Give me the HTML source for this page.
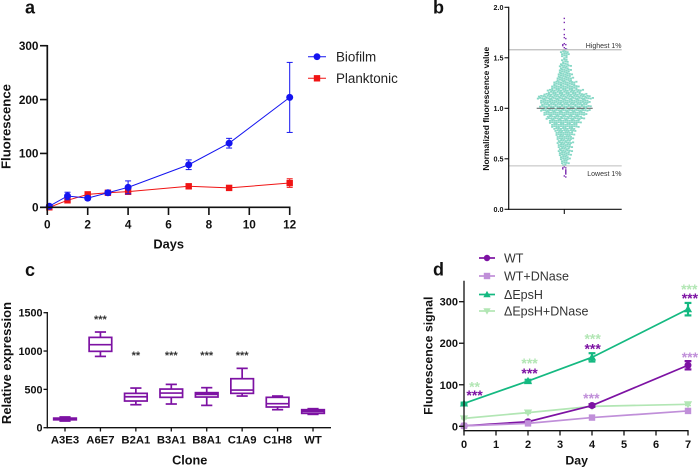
<!DOCTYPE html>
<html lang="en">
<head>
<meta charset="utf-8">
<title>Fluorescence multi-panel figure</title>
<style>
html,body{margin:0;padding:0;background:#fff;width:698px;height:467px;overflow:hidden}
svg{display:block;font-family:"Liberation Sans",Arial,sans-serif}
text{fill:#111}
</style>
</head>
<body>
<svg id="figure" xmlns="http://www.w3.org/2000/svg" width="698" height="467" viewBox="0 0 698 467"></svg>
<script>
// Panel a
const aDays = [0.1, 1, 2, 3, 4, 7, 9, 12];
const aBiofilm = [2, 21, 17, 27, 37, 79, 119, 204];
const aBiofilmErr = [1, 7, 3, 3, 12, 9, 9, 65];
const aPlanktonic = [0, 13, 24, 27, 29, 39, 36, 45];
const aPlanktonicErr = [1, 4, 3, 3, 5, 4, 4, 8];
const aXTicks = [0, 2, 4, 6, 8, 10, 12];
const aYTicks = [0, 100, 200, 300];

// Panel b
const bBinValues = [0.44,0.46,0.48,0.50,0.52,0.54,0.56,0.58,0.60,0.62,0.64,0.66,0.68,0.70,0.72,0.74,0.76,0.78,0.80,0.82,0.84,0.86,0.88,0.90,0.92,0.94,0.96,0.98,1.00,1.02,1.04,1.06,1.08,1.10,1.12,1.14,1.16,1.18,1.20,1.22,1.24,1.26,1.28,1.30,1.32,1.34,1.36,1.38,1.40,1.42,1.44,1.46,1.48,1.50,1.52,1.54,1.56,1.58];
const bBinCounts = [2,4,3,5,4,6,5,7,5,7,6,8,6,8,7,9,8,10,10,13,12,15,14,18,16,20,19,23,21,24,21,23,22,26,24,20,15,17,12,13,10,11,7,8,6,7,5,6,4,6,4,3,3,2,3,4,4,2];
const bHighOutliers = [1.89,1.85,1.78,1.73,1.70,1.69,1.64,1.63,1.63,1.62,1.60,1.59];
const bLowOutliers = [0.42,0.41,0.41,0.40,0.39,0.38,0.37,0.36,0.35,0.33,0.32];
const bYTicks = ["0.0","0.5","1.0","1.5","2.0"];
const bMedian = 1.0;
const bHighest = 1.58;
const bLowest = 0.43;

// Panel c
const cClones = ["A3E3","A6E7","B2A1","B3A1","B8A1","C1A9","C1H8","WT"];
const cMin = [87, 930, 300, 309, 291, 413, 235, 174];
const cQ1 = [103, 996, 348, 396, 400, 448, 270, 187];
const cMedian = [113, 1083, 404, 452, 435, 491, 313, 213];
const cQ3 = [125, 1178, 448, 504, 457, 639, 396, 235];
const cMax = [140, 1248, 517, 565, 522, 774, 413, 248];
const cStars = ["", "***", "**", "***", "***", "***", "", ""];
const cStarValues = [0, 1430, 960, 960, 960, 960, 0, 0];
const cYTicks = [0, 500, 1000, 1500];

// Panel d
const dDays = [0, 2, 4, 7];
const dWT = [1, 11, 50, 147];
const dWTErr = [1, 2, 3, 10];
const dWTDNase = [1, 7, 21, 37];
const dWTDNaseErr = [1, 1, 2, 3];
const dEpsH = [55, 109, 166, 282];
const dEpsHErr = [2, 3, 10, 15];
const dEpsHDNase = [19, 33, 48, 53];
const dEpsHDNaseErr = [1, 2, 2, 3];
const dXTicks = [0, 1, 2, 3, 4, 5, 6, 7];
const dYTicks = [0, 100, 200, 300];
const dStarDays = [0.33, 0.33, 2.05, 2.05, 4.02, 4.02, 3.98, 7.04, 7.06, 7.06];
const dStarValues = [103, 82, 160, 135, 219, 195, 75, 338, 316, 174];
const dStarText = ["**","***","***","***","***","***","***","***","***","***"];
const dStarSeries = [3,0,3,0,3,0,1,3,0,1];

const svg = document.getElementById('figure');
const NS = 'http://www.w3.org/2000/svg';
function mk(tag, attrs, parent, txt){
  const e = document.createElementNS(NS, tag);
  for (const k in attrs) e.setAttribute(k, attrs[k]);
  if (txt !== undefined) e.textContent = txt;
  (parent || svg).appendChild(e);
  return e;
}
function group(name, parent){
  const g = mk('g', {}, parent);
  
  
  return g;
}
function line(p, x1, y1, x2, y2, color, w, name){
  const l = mk('line', {x1:x1, y1:y1, x2:x2, y2:y2, stroke:color, 'stroke-width':w}, p);
  
  
  return l;
}
function label(p, x, y, s, size, bold, anchor, name, color, rot){
  const a = {x:x, y:y, 'font-size':size, 'font-weight':bold ? 'bold' : 'normal', 'text-anchor':anchor || 'middle'};
  if (rot) a.transform = 'rotate(-90 ' + x + ' ' + y + ')';
  const t = mk('text', a, p, s);
  if (color) t.style.fill = color;
  
  
  return t;
}
function marker(p, kind, x, y, r, color, name){
  let m;
  if (kind === 'circle') m = mk('circle', {cx:x, cy:y, r:r, fill:color}, p);
  else if (kind === 'square') m = mk('rect', {x:x-r, y:y-r, width:2*r, height:2*r, fill:color}, p);
  else if (kind === 'up') m = mk('polygon', {points:[x,y-r*1.15,x+r*1.15,y+r*0.85,x-r*1.15,y+r*0.85].join(','), fill:color}, p);
  else m = mk('polygon', {points:[x,y+r*1.15,x+r*1.15,y-r*0.85,x-r*1.15,y-r*0.85].join(','), fill:color}, p);
  
  
  return m;
}
function series(p, xs, ys, errs, sx, sy, color, lw, kind, r, cap, ew, name){
  const pts = xs.map((d, i) => sx(d) + ',' + sy(ys[i])).join(' ');
  const pl = mk('polyline', {points:pts, fill:'none', stroke:color, 'stroke-width':lw}, p);
  
  
  xs.forEach((d, i) => {
    const x = sx(d), hi = sy(ys[i] + errs[i]), lo = sy(ys[i] - errs[i]);
    line(p, x, hi, x, lo, color, ew, name + '-error-bar');
    line(p, x - cap, hi, x + cap, hi, color, ew, name + '-error-cap');
    line(p, x - cap, lo, x + cap, lo, color, ew, name + '-error-cap');
    marker(p, kind, x, sy(ys[i]), r, color, name + '-point');
  });
}

// Panel letters
[['a',25,13.5,'panel-a-label'],['b',433,13.5,'panel-b-label'],['c',25,276,'panel-c-label'],['d',433,275.6,'panel-d-label']].forEach(v => {
  label(svg, v[1], v[2], v[0], 18, true, 'start', v[3]);
});

// ---------- Panel a ----------
(function(){
  const g = group('panel-a-chart');
  const sx = d => 47.3 + d * (289.7 - 47.3) / 12;
  const sy = v => 207.3 - v * (207.3 - 45.7) / 300;
  series(g, aDays, aPlanktonic, aPlanktonicErr, sx, sy, '#f01414', 1, 'square', 3.2, 3, 1, 'planktonic');
  series(g, aDays, aBiofilm, aBiofilmErr, sx, sy, '#1414f0', 1, 'circle', 3.5, 3, 1, 'biofilm');
  line(g, 47.3, 45, 47.3, 208.2, '#111', 1.7, 'y-axis-a');
  line(g, 40, 207.3, 290.5, 207.3, '#111', 1.7, 'x-axis-a');
  aYTicks.forEach(v => {
    line(g, 40, sy(v), 47.3, sy(v), '#111', 1.6, 'y-tick-a');
    label(g, 38.5, sy(v) + 4.2, String(v), 11.8, true, 'end', 'y-tick-label-a');
  });
  aXTicks.forEach(v => {
    line(g, sx(v), 207.3, sx(v), 215, '#111', 1.6, 'x-tick-a');
    label(g, sx(v), 228.5, String(v), 11.8, true, 'middle', 'x-tick-label-a');
  });
  label(g, 168.7, 248.5, 'Days', 12.8, true, 'middle', 'x-axis-title-a');
  label(g, 10.5, 126.5, 'Fluorescence', 13.2, true, 'middle', 'y-axis-title-a', null, true);
  line(g, 308, 56.7, 326, 56.7, '#1414f0', 1, 'legend-biofilm-line');
  marker(g, 'circle', 317, 56.7, 3.4, '#1414f0', 'legend-biofilm-marker');
  label(g, 336, 61.3, 'Biofilm', 13.4, false, 'start', 'legend-biofilm-label', '#222');
  line(g, 308, 78.3, 326, 78.3, '#f01414', 1, 'legend-planktonic-line');
  marker(g, 'square', 317, 78.3, 3.2, '#f01414', 'legend-planktonic-marker');
  label(g, 336, 83, 'Planktonic', 13.4, false, 'start', 'legend-planktonic-label', '#222');
})();

// ---------- Panel b ----------
(function(){
  const g = group('panel-b-chart');
  const cx = 564.3;
  const sy = v => 209.3 - v * 101;
  const spacing = 2.2;
  bBinValues.forEach((v, i) => {
    const n = bBinCounts[i];
    const stagger = i % 2 ? spacing / 2 : 0;
    for (let k = 0; k < n; k++) {
      const dx = (k - (n - 1) / 2) * spacing + stagger;
      const dy = k % 3 === 0 ? 0.4 : (k % 3 === 1 ? -0.3 : 0);
      const d = mk('rect', {x:cx + dx - 1.05, y:sy(v) + dy - 0.9, width:2.1, height:1.8, fill:'#86d8c6'}, g);
      
      
    }
  });
  bHighOutliers.concat(bLowOutliers).forEach((v, i, all) => {
    const crowd = all.filter((o, j) => j < i && Math.abs(o - v) < 0.015).length;
    const dx = crowd ? (crowd % 2 ? 1.5 : -1.5) : 0;
    const d = mk('rect', {x:cx + dx - 0.7, y:sy(v) - 0.7, width:1.4, height:1.4, fill:'#7b2cb0'}, g);
    
    
  });
  const med = line(g, 536.7, sy(bMedian), 592.7, sy(bMedian), '#6d7272', 1.2, 'median-line');
  med.setAttribute('stroke-dasharray', '8 2');
  line(g, 508.7, sy(bHighest), 621.7, sy(bHighest), '#bdbdbd', 1.3, 'highest-1-percent-line');
  line(g, 508.7, sy(bLowest), 621.7, sy(bLowest), '#bdbdbd', 0.9, 'lowest-1-percent-line');
  line(g, 508.7, 6.8, 508.7, 210, '#111', 1.2, 'y-axis-b');
  line(g, 508, 209.3, 621.7, 209.3, '#111', 1.2, 'x-axis-b');
  line(g, cx, 209.3, cx, 214, '#111', 1.1, 'x-tick-b');
  bYTicks.forEach(s => {
    const v = parseFloat(s);
    line(g, 504.5, sy(v), 508.7, sy(v), '#111', 1.1, 'y-tick-b');
    label(g, 503.5, sy(v) + 2.6, s, 7.2, true, 'end', 'y-tick-label-b');
  });
  label(g, 489, 108.7, 'Normalized fluorescence value', 8.45, true, 'middle', 'y-axis-title-b', null, true);
  label(g, 621.5, 47.8, 'Highest 1%', 7, false, 'end', 'highest-1-percent-label', '#333');
  label(g, 621.5, 176, 'Lowest 1%', 7, false, 'end', 'lowest-1-percent-label', '#333');
})();

// ---------- Panel c ----------
(function(){
  const g = group('panel-c-chart');
  const sx = i => 65 + i * 35.43;
  const sy = v => 427.7 - v * 115 / 1500;
  const col = '#7d12a3';
  cClones.forEach((name, i) => {
    const x = sx(i), hw = 11.3, cap = 5.6;
    const b = group('box-' + name.toLowerCase(), g);
    line(b, x, sy(cMax[i]), x, sy(cQ3[i]), col, 1.7, 'upper-whisker');
    line(b, x, sy(cQ1[i]), x, sy(cMin[i]), col, 1.7, 'lower-whisker');
    line(b, x - cap, sy(cMax[i]), x + cap, sy(cMax[i]), col, 1.7, 'upper-cap');
    line(b, x - cap, sy(cMin[i]), x + cap, sy(cMin[i]), col, 1.7, 'lower-cap');
    const r = mk('rect', {x:x - hw, y:sy(cQ3[i]), width:2 * hw, height:sy(cQ1[i]) - sy(cQ3[i]), fill:'#fff', stroke:col, 'stroke-width':1.7}, b);
    
    
    line(b, x - hw, sy(cMedian[i]), x + hw, sy(cMedian[i]), col, 1.7, 'median');
    if (cStars[i]) label(g, x, sy(cStarValues[i]) + 5, cStars[i], 11, true, 'middle', 'significance-stars', '#333');
    line(g, x, 427.7, x, 431.5, '#111', 1.3, 'x-tick-c');
    label(g, x, 443.3, name, 11.3, true, 'middle', 'x-tick-label-c');
  });
  line(g, 47.3, 312, 47.3, 428.4, '#111', 1.3, 'y-axis-c');
  line(g, 47, 427.7, 331, 427.7, '#111', 1.3, 'x-axis-c');
  cYTicks.forEach(v => {
    line(g, 43.5, sy(v), 47.3, sy(v), '#111', 1.3, 'y-tick-c');
    label(g, 42.5, sy(v) + 3.9, String(v), 10.8, true, 'end', 'y-tick-label-c');
  });
  label(g, 189.7, 464.5, 'Clone', 12.7, true, 'middle', 'x-axis-title-c');
  label(g, 11, 363, 'Relative expression', 13, true, 'middle', 'y-axis-title-c', null, true);
})();

// ---------- Panel d ----------
(function(){
  const g = group('panel-d-chart');
  const sx = d => 464 + d * 32;
  const sy = v => 426.3 - v * 124.6 / 300;
  const colors = ['#7d12a3', '#c08fd9', '#14b981', '#b2e6b4'];
  series(g, dDays, dEpsHDNase, dEpsHDNaseErr, sx, sy, colors[3], 1.7, 'down', 3.6, 3, 1.4, 'epsh-dnase');
  series(g, dDays, dWT, dWTErr, sx, sy, colors[0], 1.7, 'circle', 3.5, 3.4, 2.2, 'wt');
  series(g, dDays, dWTDNase, dWTDNaseErr, sx, sy, colors[1], 1.7, 'square', 3.2, 3, 1.4, 'wt-dnase');
  series(g, dDays, dEpsH, dEpsHErr, sx, sy, colors[2], 1.7, 'up', 3.6, 3.4, 2.2, 'epsh');
  dStarDays.forEach((d, i) => {
    label(g, sx(d), sy(dStarValues[i]) + 8, dStarText[i], 14, true, 'middle', 'significance-stars', colors[dStarSeries[i]]);
  });
  line(g, 464, 280.7, 464, 431.3, '#111', 1.3, 'y-axis-d');
  line(g, 463.4, 430.7, 688.6, 430.7, '#111', 1.3, 'x-axis-d');
  dYTicks.forEach(v => {
    line(g, 459, sy(v), 464, sy(v), '#111', 1.3, 'y-tick-d');
    label(g, 458, sy(v) + 4, String(v), 11, true, 'end', 'y-tick-label-d');
  });
  dXTicks.forEach(v => {
    line(g, sx(v), 430.7, sx(v), 435.5, '#111', 1.3, 'x-tick-d');
    label(g, sx(v), 448, String(v), 11, true, 'middle', 'x-tick-label-d');
  });
  label(g, 576.7, 464.5, 'Day', 12.3, true, 'middle', 'x-axis-title-d');
  label(g, 432.5, 355.7, 'Fluorescence signal', 12.3, true, 'middle', 'y-axis-title-d', null, true);
  const names = ['WT', 'WT+DNase', '\u0394EpsH', '\u0394EpsH+DNase'];
  const kinds = ['circle', 'square', 'up', 'down'];
  const rows = [258, 276, 294.5, 311];
  names.forEach((n, i) => {
    line(g, 479, rows[i], 495, rows[i], colors[i], 1.7, 'legend-line');
    marker(g, kinds[i], 487, rows[i], 3.2, colors[i], 'legend-marker');
    label(g, 504, rows[i] + 4.4, n, 12.5, false, 'start', 'legend-label', '#333');
  });
})();
</script>
</body>
</html>
